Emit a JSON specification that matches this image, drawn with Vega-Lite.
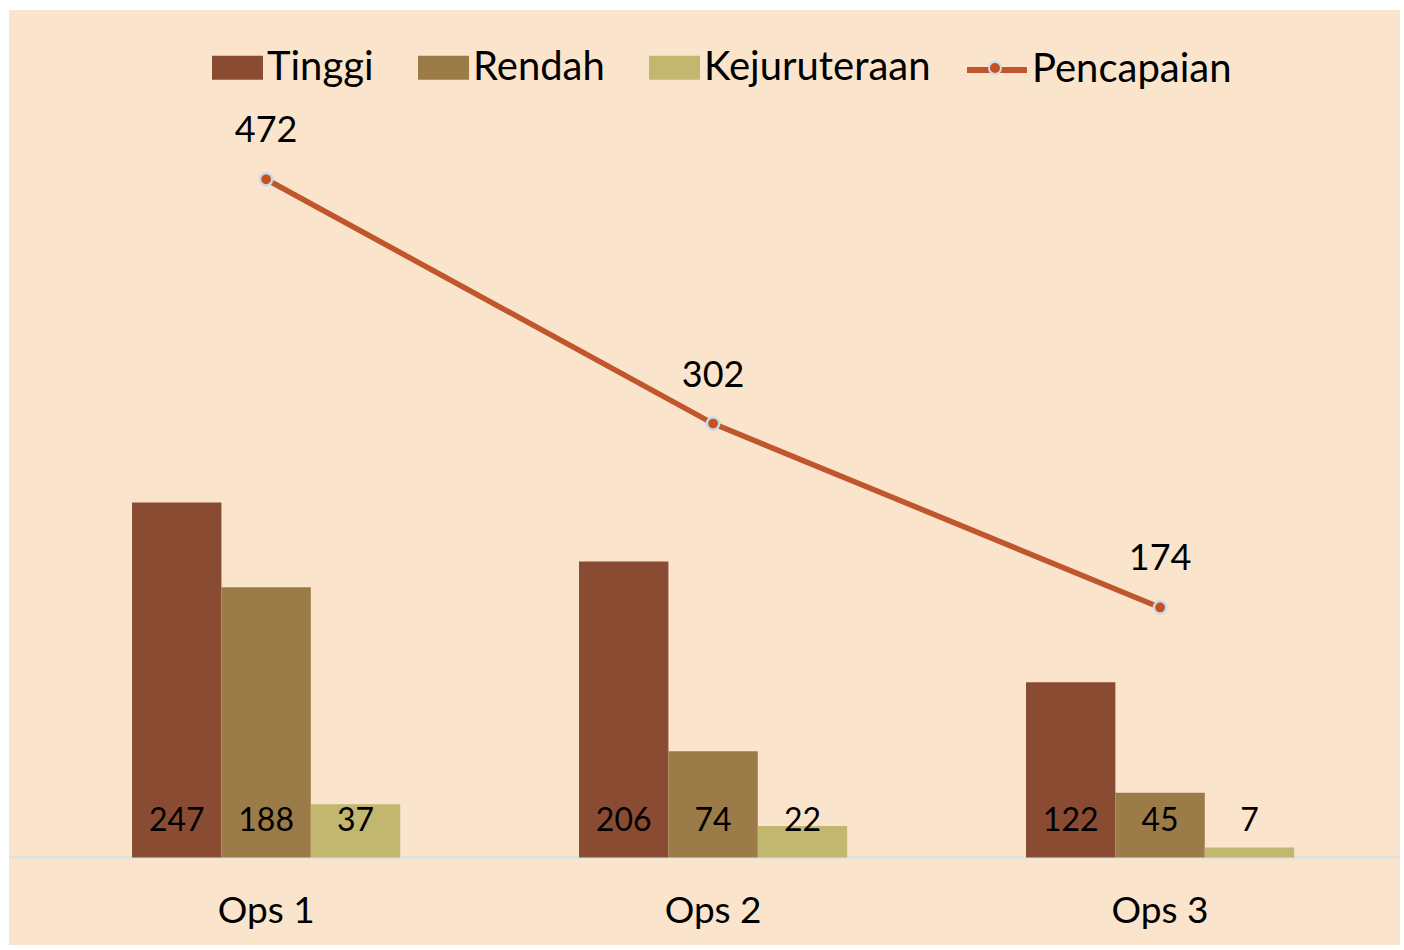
{
  "$schema": "https://vega.github.io/schema/vega-lite/v6.json",
  "width": 1391,
  "height": 935,
  "autosize": {"type": "none"},
  "padding": {"left": 9, "top": 10, "right": 4, "bottom": 5},
  "background": "#FFFFFF",
  "config": {"view": {"fill": "#FAE5CC", "stroke": null}, "font": "Lato", "text": {"font": "Lato"}},
  "datasets": {
    "bars": [
      {"ops": "Ops 1", "series": "Tinggi", "value": 247},
      {"ops": "Ops 1", "series": "Rendah", "value": 188},
      {"ops": "Ops 1", "series": "Kejuruteraan", "value": 37},
      {"ops": "Ops 2", "series": "Tinggi", "value": 206},
      {"ops": "Ops 2", "series": "Rendah", "value": 74},
      {"ops": "Ops 2", "series": "Kejuruteraan", "value": 22},
      {"ops": "Ops 3", "series": "Tinggi", "value": 122},
      {"ops": "Ops 3", "series": "Rendah", "value": 45},
      {"ops": "Ops 3", "series": "Kejuruteraan", "value": 7}
    ],
    "line": [
      {"ops": "Ops 1", "series": "Pencapaian", "marker": "Pencapaian", "value": 472},
      {"ops": "Ops 2", "series": "Pencapaian", "marker": "Pencapaian", "value": 302},
      {"ops": "Ops 3", "series": "Pencapaian", "marker": "Pencapaian", "value": 174}
    ],
    "base": [{"value": 0}]
  },
  "layer": [
    {
      "data": {"name": "base"},
      "mark": {"type": "rule", "color": "#E3E1D8", "strokeWidth": 3},
      "encoding": {"y": {"field": "value", "type": "quantitative", "scale": {"domain": [-60.9, 589.8], "nice": false, "zero": false}, "axis": null}}
    },
    {
      "data": {"name": "bars"},
      "mark": {"type": "bar"},
      "encoding": {
        "x": {
          "field": "ops",
          "type": "nominal",
          "sort": ["Ops 1", "Ops 2", "Ops 3"],
          "scale": {"paddingInner": 0.4, "paddingOuter": 0.256, "align": 0.5376},
          "axis": {
            "title": null,
            "domain": false,
            "ticks": false,
            "grid": false,
            "labelAngle": 0,
            "labelFont": "Lato",
            "labelFontSize": 37,
            "labelColor": "#000000",
            "labelPadding": 0,
            "labelBaseline": "middle",
            "offset": -34
          }
        },
        "xOffset": {"field": "series", "type": "nominal", "sort": ["Tinggi", "Rendah", "Kejuruteraan"], "scale": {"paddingInner": 0, "paddingOuter": 0}},
        "y": {"field": "value", "type": "quantitative", "scale": {"domain": [-60.9, 589.8], "nice": false, "zero": false}, "axis": null},
        "y2": {"datum": 0},
        "color": {
          "field": "series",
          "type": "nominal",
          "sort": ["Tinggi", "Rendah", "Kejuruteraan"],
          "scale": {"domain": ["Tinggi", "Rendah", "Kejuruteraan"], "range": ["#8A4B33", "#9B7B47", "#C1B76F"]},
          "legend": {
            "orient": "none",
            "legendX": 203,
            "legendY": 32,
            "direction": "horizontal",
            "title": null,
            "padding": 0,
            "symbolType": "M-1,-0.47H1V0.47H-1Z",
            "symbolSize": 2601,
            "symbolStrokeWidth": 0,
            "labelFont": "Lato",
            "labelFontSize": 40,
            "labelLimit": 500,
            "labelColor": "#000000",
            "labelOffset": 4,
            "columnPadding": 44
          }
        }
      }
    },
    {
      "data": {"name": "bars"},
      "mark": {"type": "text", "fontSize": 32, "color": "#000000", "baseline": "middle", "dy": -36},
      "encoding": {
        "x": {"field": "ops", "type": "nominal", "sort": ["Ops 1", "Ops 2", "Ops 3"]},
        "xOffset": {"field": "series", "type": "nominal", "sort": ["Tinggi", "Rendah", "Kejuruteraan"], "scale": {"paddingInner": 0, "paddingOuter": 0}},
        "y": {"datum": 0, "type": "quantitative"},
        "text": {"field": "value", "type": "quantitative"}
      }
    },
    {
      "data": {"name": "line"},
      "mark": {"type": "line", "strokeWidth": 5.5},
      "encoding": {
        "x": {"field": "ops", "type": "nominal", "sort": ["Ops 1", "Ops 2", "Ops 3"]},
        "y": {"field": "value", "type": "quantitative"},
        "stroke": {
          "field": "series",
          "type": "nominal",
          "scale": {"range": ["#C0562B"]},
          "legend": {
            "orient": "none",
            "legendX": 955,
            "legendY": 27,
            "title": null,
            "padding": 0,
            "symbolType": "stroke",
            "symbolSize": 3600,
            "symbolStrokeWidth": 6,
            "labelFont": "Lato",
            "labelFontSize": 40,
            "labelLimit": 500,
            "labelColor": "#000000",
            "labelOffset": 2
          }
        }
      }
    },
    {
      "data": {"name": "line"},
      "mark": {"type": "point", "filled": true, "shape": "circle", "size": 150, "stroke": "#C9D9E8", "strokeWidth": 2.5, "opacity": 1},
      "encoding": {
        "x": {"field": "ops", "type": "nominal", "sort": ["Ops 1", "Ops 2", "Ops 3"]},
        "y": {"field": "value", "type": "quantitative"},
        "fill": {
          "field": "marker",
          "type": "nominal",
          "scale": {"domain": ["Pencapaian"], "range": ["#C8501E"]},
          "legend": {
            "orient": "none",
            "legendX": 955,
            "legendY": 27,
            "title": null,
            "padding": 0,
            "symbolType": "M-0.2,0A0.2,0.2,0,1,1,0.2,0A0.2,0.2,0,1,1,-0.2,0Z",
            "symbolSize": 3600,
            "symbolStrokeColor": "#C9D9E8",
            "symbolStrokeWidth": 2,
            "symbolOpacity": 1,
            "labelFont": "Lato",
            "labelFontSize": 40,
            "labelExpr": "''",
            "labelOffset": 2
          }
        }
      }
    },
    {
      "data": {"name": "line"},
      "mark": {"type": "text", "fontSize": 36, "color": "#000000", "baseline": "middle", "dy": -48},
      "encoding": {
        "x": {"field": "ops", "type": "nominal", "sort": ["Ops 1", "Ops 2", "Ops 3"]},
        "y": {"field": "value", "type": "quantitative"},
        "text": {"field": "value", "type": "quantitative"}
      }
    }
  ]
}
